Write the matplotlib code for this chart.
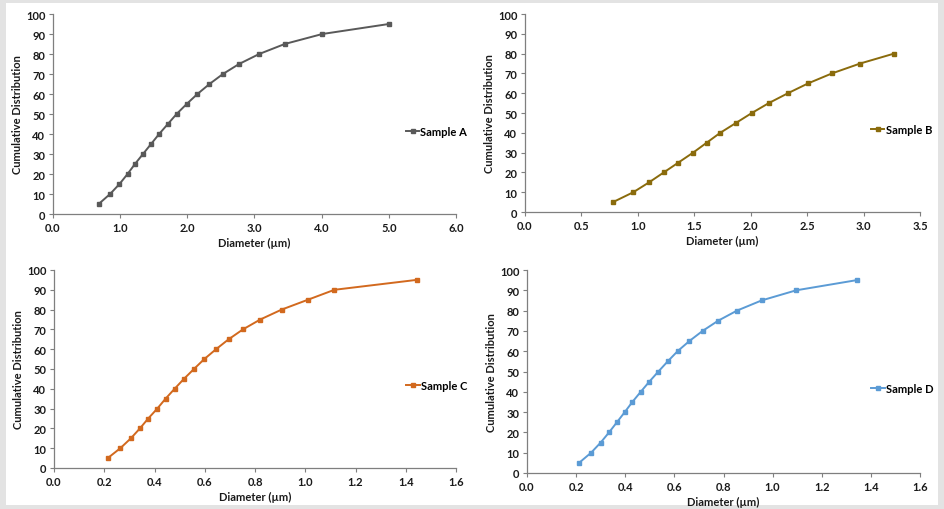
import matplotlib
matplotlib.use("Agg")
import matplotlib.pyplot as plt
from matplotlib.patches import Rectangle

plt.rcParams['font.family'] = ['Lato', 'DejaVu Sans']

cum = [5, 10, 15, 20, 25, 30, 35, 40, 45, 50, 55, 60, 65, 70, 75, 80, 85, 90, 95]

diam_a = [0.68, 0.85, 0.99, 1.11, 1.22, 1.34, 1.46, 1.58, 1.71, 1.84, 1.99, 2.15,
          2.33, 2.53, 2.77, 3.07, 3.45, 4.01, 5.00]
cum_a = cum

diam_b = [0.78, 0.96, 1.10, 1.23, 1.36, 1.49, 1.61, 1.73, 1.87, 2.01, 2.16, 2.33,
          2.51, 2.72, 2.97, 3.27]
cum_b = cum[:16]

diam_c = [0.214, 0.264, 0.306, 0.342, 0.375, 0.411, 0.444, 0.480, 0.517, 0.557,
          0.598, 0.645, 0.695, 0.752, 0.821, 0.906, 1.011, 1.116, 1.443]
cum_c = cum

diam_d = [0.212, 0.261, 0.300, 0.334, 0.366, 0.398, 0.429, 0.463, 0.498, 0.535,
          0.573, 0.613, 0.661, 0.715, 0.778, 0.855, 0.955, 1.096, 1.342]
cum_d = cum

x_ticks_a = [0.0, 1.0, 2.0, 3.0, 4.0, 5.0, 6.0]
x_ticks_b = [0.0, 0.5, 1.0, 1.5, 2.0, 2.5, 3.0, 3.5]
x_ticks_cd = [0.0, 0.2, 0.4, 0.6, 0.8, 1.0, 1.2, 1.4, 1.6]
y_ticks = [0, 10, 20, 30, 40, 50, 60, 70, 80, 90, 100]

labels = ["Sample A", "Sample B", "Sample C", "Sample D"]
colors = ["#595959", "#8a6b0c", "#d2691e", "#5b9bd5"]

W, H = 944, 510
fig = plt.figure(figsize=(W / 100, H / 100), dpi=100)
fig.patch.set_facecolor("#e3e3e3")
fig.add_artist(Rectangle((6 / W, 4 / H), (938 - 6) / W, (506 - 4) / H,
                         transform=fig.transFigure, facecolor="white",
                         edgecolor="none", zorder=0))

def px_axes(l, t, r, b):
    return [l / W, 1 - b / H, (r - l) / W, (b - t) / H]

panels = [
    (px_axes(53, 15, 456, 215), diam_a, cum_a, x_ticks_a, "{:.1f}", 6.0, 0),
    (px_axes(525, 15, 920, 213), diam_b, cum_b, x_ticks_b, "{:.1f}", 3.5, 1),
    (px_axes(54, 271, 456, 469), diam_c, cum_c, x_ticks_cd, "{:.1f}", 1.6, 2),
    (px_axes(527, 271, 920, 474), diam_d, cum_d, x_ticks_cd, "{:.1f}", 1.6, 3),
]

for rect, xs, ys, xt, fmt, xmax, i in panels:
    ax = fig.add_axes(rect)
    ax.set_facecolor("none")
    ax.plot(xs, ys, color=colors[i], lw=1.4, marker="s", markersize=3.2,
            label=labels[i], zorder=3)
    ax.set_xlim(0, xmax)
    ax.set_ylim(0, 100)
    ax.set_xticks(xt)
    ax.set_xticklabels([fmt.format(v) for v in xt])
    ax.set_yticks(y_ticks)
    for s in ["top", "right"]:
        ax.spines[s].set_visible(False)
    for s in ["left", "bottom"]:
        ax.spines[s].set_color("#7f7f7f")
        ax.spines[s].set_linewidth(0.9)
    ax.tick_params(axis="both", direction="out", length=3, width=0.8,
                   color="#7f7f7f", labelsize=8, pad=2.5)
    for lab in ax.get_xticklabels() + ax.get_yticklabels():
        lab.set_fontweight("bold")
        lab.set_color("#1a1a1a")
    ax.set_xlabel("Diameter (µm)", fontsize=8, fontweight="bold",
                  color="#1a1a1a", labelpad=3)
    ax.set_ylabel("Cumulative Distribution", fontsize=8, fontweight="bold",
                  color="#1a1a1a", labelpad=2)
    ax.legend(loc="center left", bbox_to_anchor=(0.865, 0.415), frameon=False,
              handlelength=1.2, handletextpad=0.1,
              borderaxespad=0, prop={"weight": "bold", "size": 8})

fig.savefig("out.png", dpi=100, facecolor=fig.get_facecolor())
